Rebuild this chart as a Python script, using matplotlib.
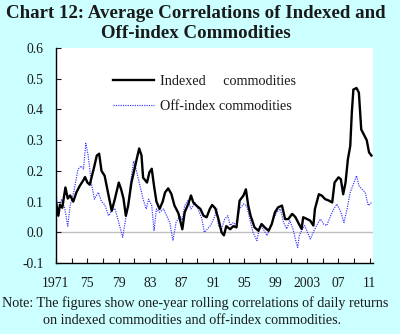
import matplotlib
matplotlib.use('Agg')
import matplotlib.pyplot as plt
from matplotlib.lines import Line2D

plt.rcParams['font.family'] = ['Liberation Serif', 'DejaVu Serif']

# Indexed commodities (black)
idx_years = [1971.0, 1971.3, 1971.5, 1971.8, 1972.2, 1972.5, 1972.8, 1973.2, 1973.6, 1974.0,
             1974.5, 1974.7, 1975.0, 1975.3, 1975.8, 1976.2, 1976.5, 1976.8, 1977.2, 1977.7,
             1978.1, 1978.5, 1979.0, 1979.3, 1979.6, 1979.9, 1980.2, 1980.6, 1981.0, 1981.3,
             1981.6, 1981.9, 1982.1, 1982.6, 1982.9, 1983.2, 1983.5, 1983.8, 1984.2, 1984.6,
             1984.9, 1985.3, 1985.7, 1986.1, 1986.6, 1987.1, 1987.4, 1987.9, 1988.2, 1988.5,
             1988.9, 1989.4, 1989.8, 1990.2, 1990.6, 1990.9, 1991.3, 1991.7, 1992.1, 1992.4,
             1992.7, 1993.2, 1993.6, 1994.0, 1994.4, 1994.9, 1995.2, 1995.5, 1995.8, 1996.3,
             1996.8, 1997.2, 1997.6, 1998.1, 1998.5, 1998.9, 1999.3, 1999.8, 2000.2, 2000.6,
             2001.1, 2001.5, 2001.9, 2002.3, 2002.5, 2003.0, 2003.4, 2003.8, 2004.0, 2004.5,
             2004.9, 2005.3, 2005.8, 2006.2, 2006.5, 2007.0, 2007.3, 2007.6, 2007.9, 2008.2,
             2008.5, 2008.7, 2008.9, 2009.3, 2009.6, 2009.9, 2010.2, 2010.6, 2010.9, 2011.2]
idx_vals = [0.097, 0.054, 0.09, 0.08, 0.146, 0.11, 0.12, 0.10, 0.13, 0.15,
            0.17, 0.18, 0.162, 0.155, 0.206, 0.25, 0.256, 0.20, 0.184, 0.12,
            0.07, 0.108, 0.162, 0.14, 0.11, 0.054, 0.087, 0.16, 0.206, 0.24,
            0.273, 0.25, 0.178, 0.162, 0.195, 0.207, 0.15, 0.10, 0.076, 0.10,
            0.13, 0.143, 0.125, 0.087, 0.062, 0.01, 0.065, 0.095, 0.12, 0.097,
            0.087, 0.076, 0.054, 0.049, 0.076, 0.089, 0.078, 0.043, 0.0, -0.01,
            0.02, 0.01, 0.02, 0.016, 0.103, 0.12, 0.14, 0.087, 0.054, 0.016,
            0.005, 0.027, 0.016, 0.005, 0.027, 0.065, 0.081, 0.087, 0.043, 0.043,
            0.06, 0.05, 0.03, 0.011, 0.049, 0.043, 0.038, 0.022, 0.076, 0.124,
            0.119, 0.108, 0.103, 0.097, 0.162, 0.179, 0.173, 0.124, 0.162, 0.238,
            0.281, 0.39, 0.465, 0.47, 0.455, 0.335, 0.32, 0.30, 0.26, 0.25]

# Off-index commodities (blue dotted)
off_years = [1971.0, 1971.3, 1971.7, 1972.1, 1972.5, 1972.8, 1973.3, 1973.8, 1974.2, 1974.5,
             1974.8, 1975.1, 1975.5, 1975.9, 1976.4, 1976.8, 1977.2, 1977.7, 1978.1, 1978.5,
             1979.0, 1979.5, 1979.8, 1980.2, 1980.5, 1980.9, 1981.2, 1981.5, 1981.9, 1982.1,
             1982.5, 1982.8, 1983.2, 1983.5, 1983.8, 1984.2, 1984.7, 1985.1, 1985.5, 1985.9,
             1986.3, 1986.8, 1987.1, 1987.4, 1987.8, 1988.2, 1988.7, 1989.1, 1989.6, 1989.9,
             1990.3, 1990.7, 1991.2, 1991.5, 1991.7, 1992.1, 1992.5, 1992.9, 1993.2, 1993.6,
             1994.0, 1994.4, 1994.9, 1995.3, 1995.7, 1996.1, 1996.6, 1997.0, 1997.4, 1997.9,
             1998.3, 1998.7, 1999.1, 1999.6, 2000.0, 2000.4, 2000.8, 2001.2, 2001.6, 2001.8,
             2002.0, 2002.3, 2002.7, 2003.4, 2003.8, 2004.2, 2004.7, 2005.1, 2005.5, 2006.0,
             2006.4, 2006.8, 2007.3, 2007.7, 2008.1, 2008.5, 2008.9, 2009.3, 2009.6, 2010.0,
             2010.4, 2010.8, 2011.2]
off_vals = [0.13, 0.06, 0.108, 0.08, 0.02, 0.087, 0.135, 0.205, 0.216, 0.206,
            0.29, 0.25, 0.16, 0.108, 0.13, 0.10, 0.09, 0.054, 0.07, 0.078,
            0.032, -0.016, 0.032, 0.09, 0.162, 0.232, 0.206, 0.173, 0.13, 0.108,
            0.076, 0.108, 0.087, 0.005, 0.076, 0.065, 0.076, 0.054, 0.032, -0.027,
            0.032, 0.054, 0.04, 0.087, 0.103, 0.076, 0.097, 0.076, 0.043, 0.0,
            0.011, 0.022, 0.05, 0.076, 0.022, 0.011, 0.043, 0.054, 0.022, 0.032,
            0.022, 0.076, 0.092, 0.087, 0.043, 0.0, -0.027, 0.022, 0.011, -0.011,
            0.016, 0.043, 0.065, 0.076, 0.032, 0.011, 0.038, 0.011, -0.032, -0.049,
            -0.011, 0.005, 0.022, -0.022, 0.0, 0.022, 0.043, 0.027, 0.022, 0.054,
            0.076, 0.092, 0.065, 0.032, 0.076, 0.13, 0.157, 0.184, 0.152, 0.14,
            0.13, 0.087, 0.097]

xtick_years = list(range(1971, 2012, 2))
xtick_labels = ['1971', '', '75', '', '79', '', '83', '', '87', '', '91', '', '95', '',
                '99', '', '2003', '', '07', '', '11']
ytick_vals = [-0.1, 0.0, 0.1, 0.2, 0.3, 0.4, 0.5, 0.6]

BG = '#ccffff'
TXT = '#1a1a1a'
BLUE = '#3333ff'

fig = plt.figure(figsize=(4.0, 3.34), dpi=100)
fig.patch.set_facecolor(BG)
ax = fig.add_axes([0.14, 0.2126, 0.7925, 0.6434])
ax.set_facecolor('white')

ax.axhline(0.0, color='#bfbfbf', lw=1.0, zorder=1)
ax.plot(idx_years, idx_vals, color='black', lw=1.7, zorder=3)
ax.plot(off_years, off_vals, color=BLUE, lw=0.85, ls=(0, (1, 1)), zorder=2)

ax.set_xlim(1971, 2011.4)
ax.set_ylim(-0.1, 0.6)
ax.set_xticks(xtick_years)
ax.set_xticklabels(xtick_labels)
ax.set_yticks(ytick_vals)
ax.set_yticklabels(['%.1f' % v for v in ytick_vals])
ax.tick_params(direction='in', length=3.5, width=0.8, labelsize=9.8, colors=TXT)
ax.tick_params(axis='x', pad=10)
ax.tick_params(axis='y', pad=9)
for s in ('top', 'right'):
    ax.spines[s].set_visible(False)
for s in ('left', 'bottom'):
    ax.spines[s].set_linewidth(1.0)
    ax.spines[s].set_color('black')

handles = [Line2D([], [], color='black', lw=1.7),
           Line2D([], [], color=BLUE, lw=0.85, ls=(0, (1, 1)))]
ax.legend(handles, ['Indexed     commodities', 'Off-index commodities'],
          loc='upper left', bbox_to_anchor=(0.18, 0.875), frameon=False,
          borderpad=0, borderaxespad=0, handlelength=2.9, handletextpad=0.4,
          labelspacing=0.85, fontsize=10.2, labelcolor=TXT)

fig.text(0.49, 0.985, 'Chart 12: Average Correlations of Indexed and\nOff-index Commodities',
         ha='center', va='top', fontsize=13.6, fontweight='bold', color=TXT, linespacing=1.2)
fig.text(0.006, 0.093, 'Note: The figures show one-year rolling correlations of daily returns',
         ha='left', va='center', fontsize=10.2, color=TXT)
fig.text(0.107, 0.039, 'on indexed commodities and off-index commodities.',
         ha='left', va='center', fontsize=10.2, color=TXT)

fig.savefig('out.png', dpi=100, facecolor=fig.get_facecolor())
